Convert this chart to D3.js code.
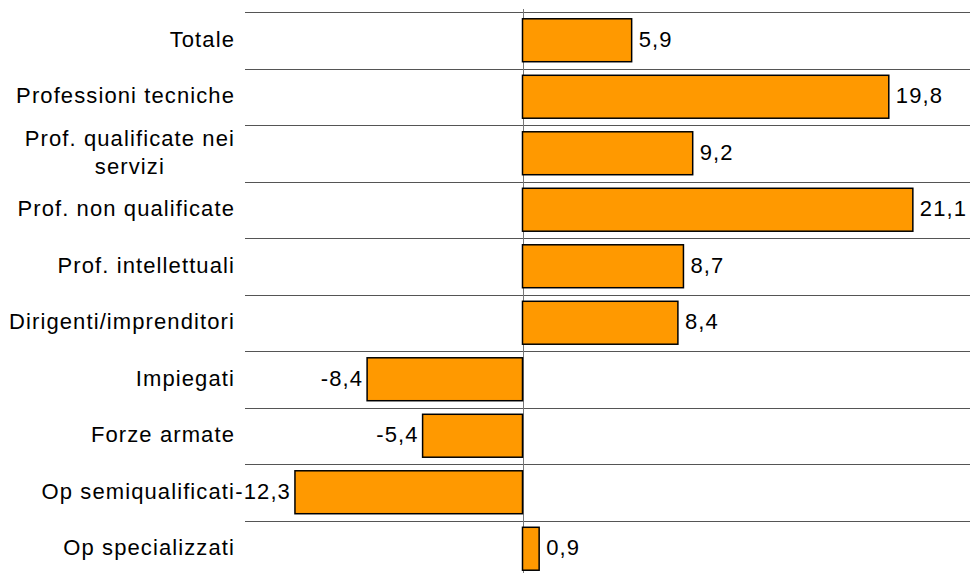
<!DOCTYPE html>
<html>
<head>
<meta charset="utf-8">
<script src="https://cdn.jsdelivr.net/npm/d3@7"></script>
<style>
  html, body { margin: 0; padding: 0; background: #fff; }
  svg { display: block; }
  text { font-family: "Liberation Sans", Arial, sans-serif; fill: #000; font-size: 22px; letter-spacing: 1.1px; }
</style>
</head>
<body>
<svg id="chart" width="970" height="573"></svg>
<script>
// Variazione percentuale per gruppo professionale
const categories = [
  "Totale",
  "Professioni tecniche",
  "Prof. qualificate nei servizi",
  "Prof. non qualificate",
  "Prof. intellettuali",
  "Dirigenti/imprenditori",
  "Impiegati",
  "Forze armate",
  "Op semiqualificati",
  "Op specializzati"
];
const values = [5.9, 19.8, 9.2, 21.1, 8.7, 8.4, -8.4, -5.4, -12.3, 0.9];
// Two-line label for the long category name
const labelLines = {
  "Prof. qualificate nei servizi": ["Prof. qualificate nei", "servizi"]
};

const svg = d3.select("#chart");
const W = 970;
const left = 245;
const labelRight = 235;

const x = d3.scaleLinear().domain([-15, 25]).range([left, left + 40 * 18.5]);
const y = d3.scaleBand()
  .domain(categories)
  .range([12, 577])
  .paddingInner(0.24)
  .paddingOuter(0.12);

const step = y.step();
const fmt = v => d3.format(".1f")(Math.abs(v)).replace(".", ",");
const fmtSigned = v => (v < 0 ? "-" : "") + fmt(v);

// horizontal separators between categories
const bounds = categories.map(c => y(c) - step * y.paddingInner() / 2);
svg.append("g").selectAll("line").data(bounds).join("line")
  .attr("x1", left).attr("x2", W)
  .attr("y1", d => Math.round(d) + 0.5).attr("y2", d => Math.round(d) + 0.5)
  .attr("stroke", "#555").attr("stroke-width", 1);

// zero line
svg.append("line")
  .attr("x1", Math.round(x(0)) + 0.5).attr("x2", Math.round(x(0)) + 0.5)
  .attr("y1", 9).attr("y2", 573)
  .attr("stroke", "#777").attr("stroke-width", 1);

// bars
svg.append("g").selectAll("rect").data(categories).join("rect")
  .attr("x", (c, i) => x(Math.min(0, values[i])))
  .attr("width", (c, i) => Math.abs(x(values[i]) - x(0)))
  .attr("y", c => y(c))
  .attr("height", y.bandwidth())
  .attr("fill", "#FF9900")
  .attr("stroke", "#000")
  .attr("stroke-width", 1.5);

// value labels
svg.append("g").selectAll("text").data(categories).join("text")
  .attr("x", (c, i) => values[i] >= 0 ? x(values[i]) + 7 : x(values[i]) - 4)
  .attr("y", c => y(c) + y.bandwidth() / 2)
  .attr("dy", "0.3em")
  .attr("text-anchor", (c, i) => values[i] >= 0 ? "start" : "end")
  .text((c, i) => fmtSigned(values[i]));

// category labels
const cat = svg.append("g").selectAll("text").data(categories).join("text")
  .attr("y", c => y(c) + y.bandwidth() / 2)
  .attr("x", labelRight)
  .attr("text-anchor", "end");

cat.each(function(c) {
  const t = d3.select(this);
  const lines = labelLines[c];
  if (!lines) {
    t.attr("dy", "0.3em").text(c);
  } else {
    // measure the widest line so the block stays right-aligned, lines centred
    const probe = svg.append("text").text(lines[0]);
    const w = probe.node().getComputedTextLength();
    probe.remove();
    const cx = labelRight - w / 2;
    t.attr("text-anchor", "middle");
    t.selectAll("tspan").data(lines).join("tspan")
      .attr("x", cx)
      .attr("dy", (d, i) => i === 0 ? "-0.33em" : "1.27em")
      .text(d => d);
  }
});
</script>
</body>
</html>
